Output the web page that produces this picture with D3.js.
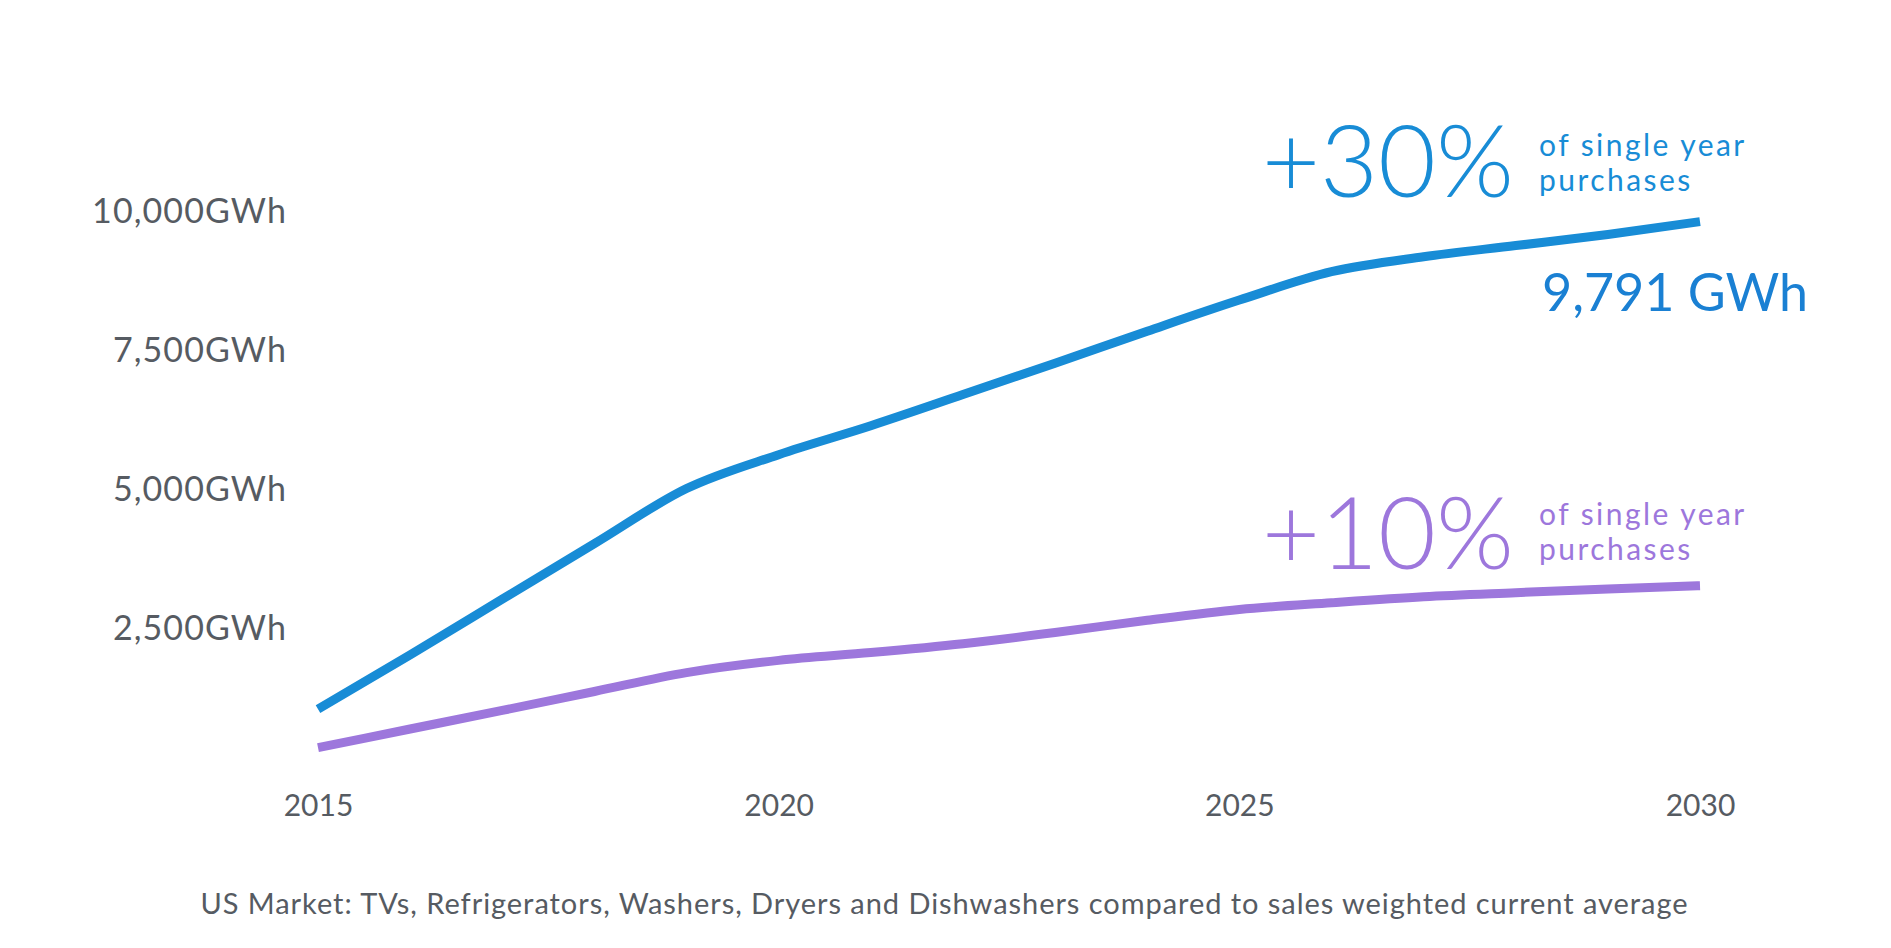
<!DOCTYPE html>
<html>
<head>
<meta charset="utf-8">
<script src="https://cdn.jsdelivr.net/npm/d3@7"></script>
<style>
  html, body { margin: 0; padding: 0; background: #ffffff; }
  svg { display: block; }
  text { font-family: Lato, "Open Sans", sans-serif; }
</style>
</head>
<body>
<script>
// ---- data ----
const years = [2015, 2016, 2017, 2018, 2019, 2020, 2021, 2022, 2023, 2024, 2025, 2026, 2027, 2028, 2029, 2030];
const plus30Values = [1025, 2000, 3000, 4000, 4990, 5600, 6120, 6680, 7245, 7820, 8380, 8890, 9160, 9360, 9560, 9791];
const plus10Values = [330, 665, 1000, 1340, 1680, 1900, 2040, 2200, 2400, 2620, 2815, 2937, 3045, 3117, 3183, 3243];
const yTicks = [2500, 5000, 7500, 10000];
const yTickLabels = ["2,500GWh", "5,000GWh", "7,500GWh", "10,000GWh"];
const xTicks = [2015, 2020, 2025, 2030];
const xTickLabels = ["2015", "2020", "2025", "2030"];
const seriesNames = ["+30%", "+10%"];
const seriesNotes = [["of single year", "purchases"], ["of single year", "purchases"]];
const endLabel = "9,791 GWh";
const footnote = "US Market: TVs, Refrigerators, Washers, Dryers and Dishwashers compared to sales weighted current average";

// ---- layout ----
const W = 1891, H = 948;
const margin = { left: 318, right: 191, top: 210, bottom: 182 };
const blue = "#188cd6", purple = "#9d77dc", grey = "#565b62";

const svg = d3.select("body").append("svg").attr("width", W).attr("height", H);

const x = d3.scaleLinear().domain([2015, 2030]).range([margin.left, W - margin.right]);
const y = d3.scaleLinear().domain([0, 10000]).range([H - margin.bottom, margin.top]);

// y axis
const yAxis = svg.append("g")
  .attr("transform", `translate(${margin.left - 21},0)`)
  .call(d3.axisLeft(y).tickValues(yTicks).tickSize(0).tickPadding(10)
    .tickFormat((d, i) => yTickLabels[i]));
yAxis.select(".domain").remove();
yAxis.selectAll("text").attr("fill", grey)
  .style("font-size", "34px").style("letter-spacing", "1.1px")
  .style("font-family", "Lato").attr("dy", "0.36em");

// x axis
const xAxis = svg.append("g")
  .attr("transform", `translate(0,${y(0)})`)
  .call(d3.axisBottom(x).tickValues(xTicks).tickSize(0).tickPadding(29)
    .tickFormat((d, i) => xTickLabels[i]));
xAxis.select(".domain").remove();
xAxis.selectAll("text").attr("fill", grey).style("font-size", "30px").style("font-family", "Lato");

// lines
const line = d3.line().x((d, i) => x(years[i])).y(d => y(d)).curve(d3.curveMonotoneX);
const series = [
  { name: seriesNames[0], values: plus30Values, color: blue },
  { name: seriesNames[1], values: plus10Values, color: purple }
];
svg.selectAll("path.series").data(series).enter().append("path")
  .attr("class", "series")
  .attr("d", d => line(d.values))
  .attr("fill", "none")
  .attr("stroke", d => d.color)
  .attr("stroke-width", 9)
  .attr("stroke-linecap", "butt")
  .attr("stroke-linejoin", "round");

// annotations
const annX = x(2030);
const annBase = [y(10000) - 13, y(3243) - 17];
const noteShift = [0, -3];
series.forEach((s, i) => {
  const g = svg.append("g").attr("fill", s.color);
  g.append("text")
    .attr("x", annX - 186).attr("y", annBase[i])
    .attr("text-anchor", "end")
    .style("font-size", "100px").style("font-weight", 300)
    .text(s.name);
  g.append("text")
    .attr("x", annX - 161).attr("y", annBase[i] - 41 + noteShift[i])
    .style("font-size", "30px").style("letter-spacing", "2.45px")
    .text(seriesNotes[i][0]);
  g.append("text")
    .attr("x", annX - 161).attr("y", annBase[i] - 6 + noteShift[i])
    .style("font-size", "30px").style("letter-spacing", "2.45px")
    .text(seriesNotes[i][1]);
});

// end value label
svg.append("text")
  .attr("x", annX - 158).attr("y", y(9791) + 89)
  .attr("fill", "#1a80d3")
  .style("font-size", "52px")
  .text(endLabel);

// footnote
svg.append("text")
  .attr("x", W / 2 - 1).attr("y", 914)
  .attr("text-anchor", "middle")
  .attr("fill", grey)
  .style("font-size", "29px").style("letter-spacing", "0.95px")
  .text(footnote);
</script>
</body>
</html>
